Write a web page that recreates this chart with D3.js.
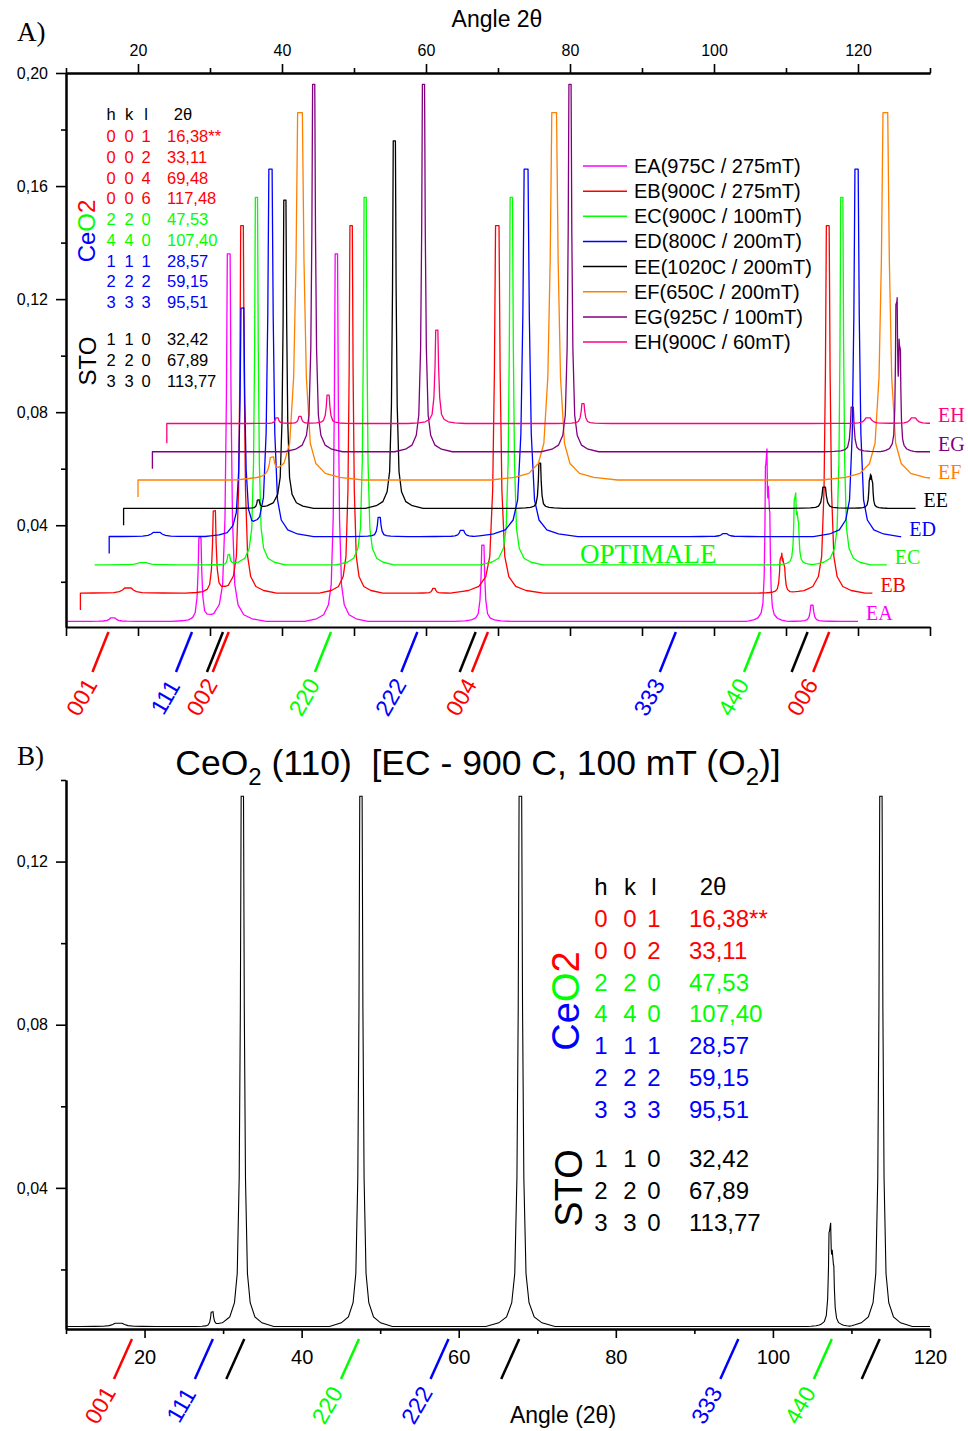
<!DOCTYPE html>
<html>
<head>
<meta charset="utf-8">
<script src="https://cdn.jsdelivr.net/npm/d3@7"></script>
<style>
  body { margin: 0; background: #fff; }
  svg { display: block; }
  text { font-family: Arial, "Liberation Sans", sans-serif; }
  .serif { font-family: "Times New Roman", "Liberation Serif", serif; }
</style>
</head>
<body>
<svg id="fig" width="968" height="1431"></svg>
<script>
// ---------------------------------------------------------------------------
// Data: XRD scans of CeO2 films on SrTiO3 (110), 2-theta from 10 to 120 deg.
// Each peak: [2theta (deg), height above background, relative width]
// ---------------------------------------------------------------------------
const sampleNames  = ["EA", "EB", "EC", "ED", "EE", "EF", "EG", "EH"];
const sampleLegend = ["EA(975C / 275mT)", "EB(900C / 275mT)", "EC(900C / 100mT)", "ED(800C / 200mT)",
                      "EE(1020C / 200mT)", "EF(650C / 200mT)", "EG(925C / 100mT)", "EH(900C / 60mT)"];
const sampleColors = ["#ff00ff", "#ff0000", "#00ff00", "#0000ff", "#000000", "#ff8000", "#800080", "#ff0080"];

const scanStart = 10, scanEnd = 120;
const backgroundLevel = 0.006;     // flat background of every scan
const saturationLevel = 0.136;     // detector ceiling of the scans
// first recorded intensity of each scan (detector ramp-up)
const startLevels = [0.006, 0.0, 0.006, 0.0, 0.0, 0.0, 0.0, -0.001];

const peaksEA = [[16.5, 0.0012, 2], [28.6, 0.029, 1], [32.6, 0.13, 1.3], [47.55, 0.13, 1.1],
                 [67.9, 0.027, 1], [107.25, 0.052, 0.7], [107.65, 0.034, 0.7], [113.6, 0.0057, 1]];
const peaksEB = [[16.6, 0.0018, 3], [28.6, 0.0286, 1], [32.45, 0.13, 1.2], [47.6, 0.13, 1.1],
                 [59.1, 0.0017, 1], [67.9, 0.13, 1.6], [107.3, 0.011, 0.8], [107.7, 0.008, 0.8],
                 [113.8, 0.13, 1.3]];
const peaksEC = [[16.7, 0.0008, 3], [28.6, 0.0035, 0.8], [32.45, 0.13, 1], [47.55, 0.13, 1],
                 [67.85, 0.13, 1.1], [107.25, 0.022, 0.7], [107.65, 0.013, 0.7], [113.75, 0.13, 1]];
const peaksED = [[16.6, 0.0015, 3], [28.5, 0.08, 1.3], [32.4, 0.13, 1.5], [47.5, 0.0068, 1],
                 [59.0, 0.0022, 1.5], [67.9, 0.13, 1.8], [95.5, 0.001, 2], [113.8, 0.13, 1.5]];
const peaksEE = [[28.7, 0.0028, 0.8], [32.4, 0.109, 1], [47.6, 0.13, 1], [67.8, 0.016, 0.8],
                 [107.3, 0.0075, 1.2], [113.65, 0.009, 0.6], [113.95, 0.008, 0.6]];
const peaksEF = [[28.6, 0.006, 1.5], [32.5, 0.13, 2.2], [67.8, 0.13, 2.2], [113.8, 0.13, 2.2]];
const peaksEG = [[32.4, 0.13, 1], [47.65, 0.13, 1], [68.0, 0.13, 1], [107.2, 0.0158, 1],
                 [113.35, 0.05, 0.6], [113.8, 0.033, 0.6]];
const peaksEH = [[25.3, 0.002, 1], [28.5, 0.0025, 1], [32.4, 0.010, 1], [47.5, 0.033, 1],
                 [67.8, 0.007, 1], [107.4, 0.002, 2], [113.7, 0.002, 2]];
const samplePeaks = [peaksEA, peaksEB, peaksEC, peaksED, peaksEE, peaksEF, peaksEG, peaksEH];

// waterfall shift between successive scans
const shiftAngle = 2, shiftIntensity = 0.01;

// reference reflections
const ceo2H = ["0", "0", "0", "0", "2", "4", "1", "2", "3"];
const ceo2K = ["0", "0", "0", "0", "2", "4", "1", "2", "3"];
const ceo2L = ["1", "2", "4", "6", "0", "0", "1", "2", "3"];
const ceo2Angles = [16.38, 33.11, 69.48, 117.48, 47.53, 107.40, 28.57, 59.15, 95.51];
const ceo2Family = ["00l", "00l", "00l", "00l", "hh0", "hh0", "hhh", "hhh", "hhh"];
const stoH = ["1", "2", "3"], stoK = ["1", "2", "3"], stoL = ["0", "0", "0"];
const stoAngles = [32.42, 67.89, 113.77];
// rows shown in the table of panel B (indices into the CeO2 list)
const ceo2RowsB = [0, 1, 4, 5, 6, 7, 8];

// reflection markers under the axes
const markerAnglesA = [15.9, 27.5, 31.8, 32.6, 46.8, 58.8, 66.9, 68.6, 94.7, 106.4, 113.0, 116.0];
const markerLabelsA = ["001", "111", "", "002", "220", "222", "", "004", "333", "440", "", "006"];
const markerFamilyA = ["00l", "hhh", "sto", "00l", "hh0", "hhh", "sto", "00l", "hhh", "hh0", "sto", "00l"];
const markerAnglesB = [18.4, 28.7, 32.7, 47.3, 58.7, 67.7, 95.6, 107.5, 113.6];
const markerLabelsB = ["001", "111", "", "220", "222", "", "333", "440", ""];
const markerFamilyB = ["00l", "hhh", "sto", "hh0", "hhh", "sto", "hhh", "hh0", "sto"];

const ticksMajorA = [20, 40, 60, 80, 100, 120];
const ticksMinorA = [10, 30, 50, 70, 90, 110, 130];
const ticksYMajorA = [0.04, 0.08, 0.12, 0.16, 0.20];
const ticksYMinorA = [0.02, 0.06, 0.10, 0.14, 0.18];
const ticksMajorB = [20, 40, 60, 80, 100, 120];
const ticksMinorB = [10, 30, 50, 70, 90, 110];
const ticksYMajorB = [0.04, 0.08, 0.12];
const ticksYMinorB = [0.02, 0.06, 0.10, 0.14];

// ---------------------------------------------------------------------------
const familyColor = { "00l": "#ff0000", "hh0": "#00ff00", "hhh": "#0000ff", "sto": "#000000" };
const comma = v => d3.format(".2f")(v).replace(".", ",");

// normalised line profile of a diffraction peak: [distance (deg), fraction of height]
const peakProfile = [[0, 1], [0.15, 1], [0.25, 0.6], [0.4, 0.28], [0.65, 0.1], [1.0, 0.045],
                     [1.6, 0.018], [2.5, 0.007], [4, 0]];
function profileAt(d) {
  d = Math.abs(d);
  for (let k = 1; k < peakProfile.length; k++) {
    const [x1, y1] = peakProfile[k];
    if (d <= x1) {
      const [x0, y0] = peakProfile[k - 1];
      return y0 + (y1 - y0) * (d - x0) / (x1 - x0);
    }
  }
  return 0;
}
// vertices of one scan: background plus its listed peaks
function scanPoints(peaks, startLevel) {
  const xs = new Set([scanStart, scanEnd]);
  peaks.forEach(([p, , w]) => peakProfile.forEach(([t]) => { xs.add(p - t * w); xs.add(p + t * w); }));
  const sorted = [...xs].filter(x => x >= scanStart && x <= scanEnd).sort((a, b) => a - b);
  const pts = sorted.map(x => [x, Math.min(saturationLevel,
    backgroundLevel + d3.sum(peaks, ([p, h, w]) => h * profileAt((x - p) / w)))]);
  pts.unshift([scanStart, startLevel]);
  return pts;
}

const svg = d3.select("#fig");
const defs = svg.append("defs");

// ============================ PANEL A ======================================
const xA = d3.scaleLinear().domain([10, 130]).range([66, 930]);
const yA = d3.scaleLinear().domain([0.004, 0.20]).range([627, 73]);

defs.append("clipPath").attr("id", "clipA").append("rect")
  .attr("x", 66).attr("y", 73).attr("width", 864).attr("height", 554);

const gA = svg.append("g");
const curvesA = gA.append("g").attr("clip-path", "url(#clipA)");
samplePeaks.forEach((peaks, i) => {
  const pts = scanPoints(peaks, startLevels[i]);
  const line = d3.line()
    .x(d => xA(d[0] + i * shiftAngle))
    .y(d => yA(d[1] + i * shiftIntensity));
  curvesA.append("path").datum(pts).attr("d", line)
    .attr("fill", "none").attr("stroke", sampleColors[i]).attr("stroke-width", 1.3)
    .attr("stroke-linejoin", "round");
});

// series labels at the end of each trace
sampleNames.forEach((name, i) => {
  const xEnd = Math.min(scanEnd + i * shiftAngle, 130);
  gA.append("text").attr("class", "serif")
    .attr("x", xA(xEnd) + 8).attr("y", yA(backgroundLevel + i * shiftIntensity) - 1)
    .attr("font-size", 20).attr("fill", sampleColors[i]).text(name);
});

// axes of panel A
function styleAxis(g) {
  g.select(".domain").attr("stroke", "#000").attr("stroke-width", 2);
  g.selectAll(".tick line").attr("stroke", "#000").attr("stroke-width", 1.6);
  g.selectAll(".tick text").attr("fill", "#000");
}
gA.append("g").attr("transform", "translate(0,73)")
  .call(d3.axisTop(xA).tickValues(ticksMinorA).tickSize(5).tickSizeOuter(0).tickFormat(""))
  .call(styleAxis);
gA.append("g").attr("transform", "translate(0,73)")
  .call(d3.axisTop(xA).tickValues(ticksMajorA).tickSize(9).tickSizeOuter(0).tickPadding(8))
  .call(styleAxis)
  .selectAll(".tick text").attr("font-size", 16);
gA.append("g").attr("transform", "translate(0,627)")
  .call(d3.axisBottom(xA).tickValues(ticksMajorA.concat(ticksMinorA)).tickSize(9).tickSizeOuter(0).tickFormat(""))
  .call(styleAxis);
gA.append("g").attr("transform", "translate(66,0)")
  .call(d3.axisLeft(yA).tickValues(ticksYMinorA).tickSize(5).tickSizeOuter(0).tickFormat(""))
  .call(styleAxis);
gA.append("g").attr("transform", "translate(66,0)")
  .call(d3.axisLeft(yA).tickValues(ticksYMajorA).tickSize(10).tickSizeOuter(0).tickPadding(8).tickFormat(comma))
  .call(styleAxis)
  .selectAll(".tick text").attr("font-size", 16);

gA.append("text").attr("x", 497).attr("y", 27).attr("text-anchor", "middle")
  .attr("font-size", 23).text("Angle 2\u03b8");
svg.append("text").attr("class", "serif").attr("x", 17).attr("y", 41)
  .attr("font-size", 27).text("A)");

// sample legend
sampleLegend.forEach((label, i) => {
  const yc = 166 + i * 25.15;
  gA.append("line").attr("x1", 583).attr("x2", 627).attr("y1", yc).attr("y2", yc)
    .attr("stroke", sampleColors[i]).attr("stroke-width", 1.5);
  gA.append("text").attr("x", 634).attr("y", yc + 7).attr("font-size", 20).text(label);
});

gA.append("text").attr("class", "serif").attr("x", 580).attr("y", 563)
  .attr("font-size", 27).attr("fill", "#00ff00").text("OPTIMALE");

// reflection table
function drawTable(g, o) {
  [["h", o.cx[0]], ["k", o.cx[1]], ["l", o.cx[2]], ["2\u03b8", o.thetaX]].forEach(([t, x]) =>
    g.append("text").attr("x", x).attr("y", o.y0 - o.hdrGap).attr("text-anchor", "middle")
      .attr("font-size", o.fs).text(t));
  o.rows.forEach((r, k) => {
    const y = o.y0 + k * o.dy;
    const col = familyColor[ceo2Family[r]];
    [ceo2H[r], ceo2K[r], ceo2L[r]].forEach((t, c) =>
      g.append("text").attr("x", o.cx[c]).attr("y", y).attr("text-anchor", "middle")
        .attr("font-size", o.fs).attr("fill", col).text(t));
    g.append("text").attr("x", o.vx).attr("y", y).attr("font-size", o.fs).attr("fill", col)
      .text(comma(ceo2Angles[r]) + (r === 0 ? "**" : ""));
  });
  stoAngles.forEach((a, k) => {
    const y = o.s0 + k * o.dy;
    [stoH[k], stoK[k], stoL[k]].forEach((t, c) =>
      g.append("text").attr("x", o.cx[c]).attr("y", y).attr("text-anchor", "middle")
        .attr("font-size", o.fs).text(t));
    g.append("text").attr("x", o.vx).attr("y", y).attr("font-size", o.fs).text(comma(a));
  });
  // rotated phase names
  const ce = g.append("text").attr("transform", `translate(${o.ceo2At[0]},${o.ceo2At[1]}) rotate(-90)`)
    .attr("text-anchor", "middle").attr("dy", "0.36em").attr("font-size", o.phaseFs);
  ce.append("tspan").attr("fill", "#0000ff").text("Ce");
  ce.append("tspan").attr("fill", "#00ff00").text("O");
  ce.append("tspan").attr("fill", "#ff0000").text("2");
  g.append("text").attr("transform", `translate(${o.stoAt[0]},${o.stoAt[1]}) rotate(-90)`)
    .attr("text-anchor", "middle").attr("dy", "0.36em").attr("font-size", o.phaseFs).text("STO");
}
drawTable(gA, { rows: d3.range(9), cx: [111, 129, 146], vx: 167, thetaX: 183, y0: 142, dy: 20.75,
  hdrGap: 22, s0: 345, fs: 16.5, phaseFs: 24, ceo2At: [86, 231], stoAt: [87, 361] });

// reflection markers
function drawMarkers(g, x, angles, labels, fams, yTop, yBot, run, labelY, labelDx) {
  angles.forEach((a, k) => {
    const col = familyColor[fams[k]];
    const xt = x(a);
    g.append("line").attr("x1", xt).attr("y1", yTop).attr("x2", xt - run).attr("y2", yBot)
      .attr("stroke", col).attr("stroke-width", 2.5);
    if (labels[k]) {
      g.append("text").attr("transform", `translate(${xt + labelDx},${labelY}) rotate(-60)`)
        .attr("text-anchor", "middle").attr("dy", "0.36em").attr("font-size", 23)
        .attr("fill", col).text(labels[k]);
    }
  });
}
drawMarkers(gA, xA, markerAnglesA, markerLabelsA, markerFamilyA, 632, 672, 16, 697, -27);

// ============================ PANEL B ======================================
const xB = d3.scaleLinear().domain([10, 120]).range([66, 930]);
const yB = d3.scaleLinear().domain([0.0054, 0.14]).range([1329, 780]);
defs.append("clipPath").attr("id", "clipB").append("rect")
  .attr("x", 66).attr("y", 780).attr("width", 864).attr("height", 549);
const gB = svg.append("g");
gB.append("g").attr("clip-path", "url(#clipB)").append("path")
  .datum(scanPoints(peaksEC, startLevels[2]))
  .attr("d", d3.line().x(d => xB(d[0])).y(d => yB(d[1])))
  .attr("fill", "none").attr("stroke", "#000").attr("stroke-width", 1.1);

gB.append("g").attr("transform", "translate(0,1329)")
  .call(d3.axisBottom(xB).tickValues(ticksMinorB).tickSize(5).tickSizeOuter(0).tickFormat(""))
  .call(styleAxis);
gB.append("g").attr("transform", "translate(0,1329)")
  .call(d3.axisBottom(xB).tickValues(ticksMajorB).tickSize(9).tickSizeOuter(0).tickPadding(12))
  .call(styleAxis)
  .selectAll(".tick text").attr("font-size", 20);
gB.append("g").attr("transform", "translate(66,0)")
  .call(d3.axisLeft(yB).tickValues(ticksYMinorB).tickSize(5).tickSizeOuter(0).tickFormat(""))
  .call(styleAxis);
gB.append("g").attr("transform", "translate(66,0)")
  .call(d3.axisLeft(yB).tickValues(ticksYMajorB).tickSize(10).tickSizeOuter(0).tickPadding(8).tickFormat(comma))
  .call(styleAxis)
  .selectAll(".tick text").attr("font-size", 16);

gB.append("text").attr("x", 563).attr("y", 1423).attr("text-anchor", "middle")
  .attr("font-size", 23).text("Angle (2\u03b8)");
svg.append("text").attr("class", "serif").attr("x", 17).attr("y", 765)
  .attr("font-size", 27).text("B)");

const title = gB.append("text").attr("x", 478).attr("y", 775).attr("text-anchor", "middle")
  .attr("font-size", 35.5);
title.append("tspan").text("CeO");
title.append("tspan").attr("font-size", 24).attr("dy", 10).text("2");
title.append("tspan").attr("dy", -10).text(" (110)\u00a0 [EC - 900 C, 100 mT (O");
title.append("tspan").attr("font-size", 24).attr("dy", 10).text("2");
title.append("tspan").attr("dy", -10).text(")]");

drawTable(gB, { rows: ceo2RowsB, cx: [601, 630, 654], vx: 689, thetaX: 713, y0: 927, dy: 31.75,
  hdrGap: 32, s0: 1167, fs: 24, phaseFs: 38, ceo2At: [565, 1001], stoAt: [568, 1188] });

drawMarkers(gB, xB, markerAnglesB, markerLabelsB, markerFamilyB, 1339, 1379, 18, 1405, -32);
</script>
</body>
</html>
